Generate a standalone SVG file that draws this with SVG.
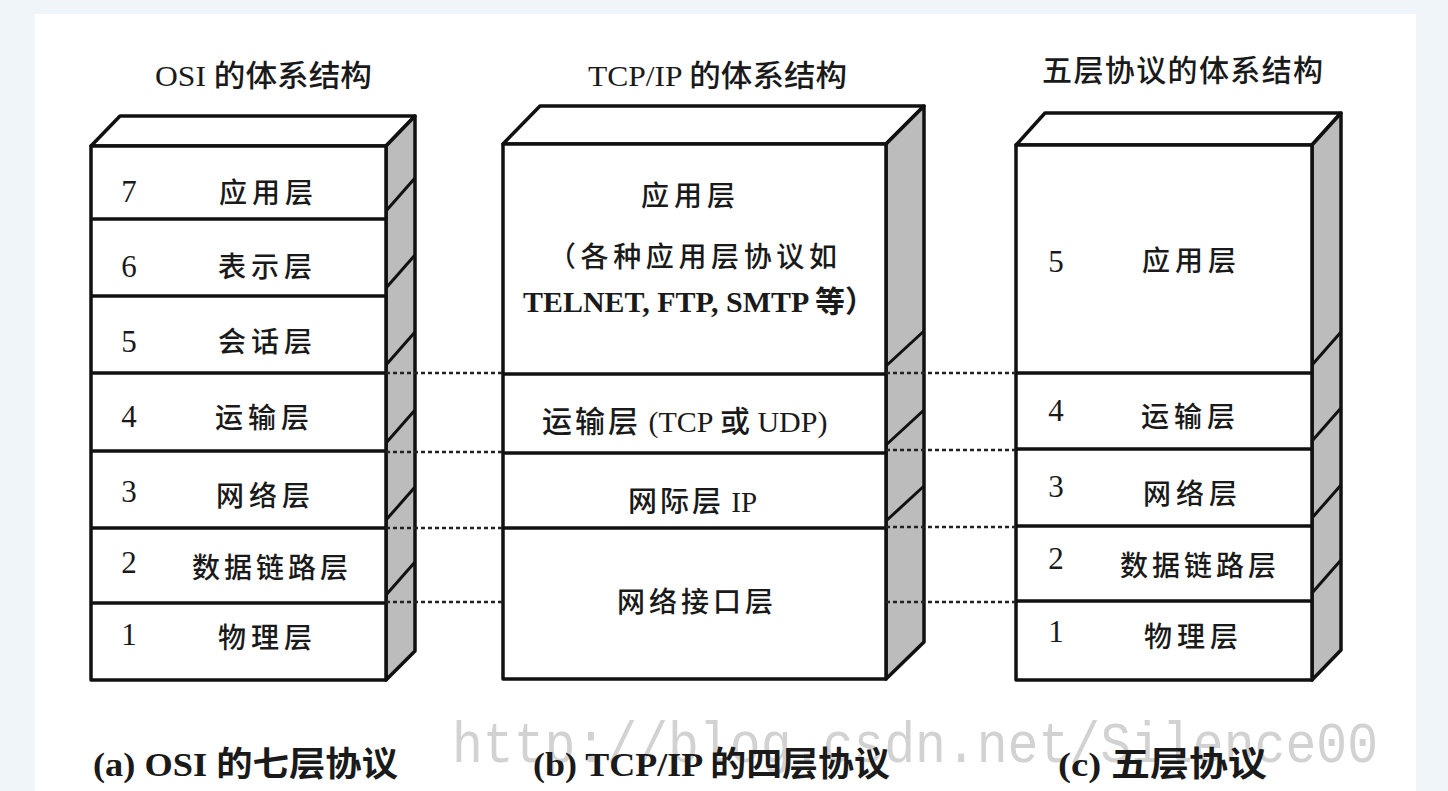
<svg xmlns="http://www.w3.org/2000/svg" width="1448" height="791" viewBox="0 0 1448 791">
<style>
.face{fill:#ffffff;stroke:#111;stroke-width:3.5;stroke-linejoin:round}
.side{fill:#bcbcbc;stroke:#111;stroke-width:3.5;stroke-linejoin:round}
.div{stroke:#111;stroke-width:3.5;fill:none}
.diag{stroke:#111;stroke-width:3;fill:none}
.dot{stroke:#222;stroke-width:2.5;stroke-dasharray:4 3;fill:none}
.t{font-family:"Liberation Serif","Noto Sans CJK SC",serif;fill:#1a1a1a}
.lbl{font-size:28px;font-weight:500;text-anchor:middle}
.num{font-size:31px;text-anchor:middle}
.ttl{font-size:30px;font-weight:500}
.cap{font-size:34px;font-weight:bold}
.wm{font-family:"Liberation Mono",monospace;font-size:58px;fill:#d2d2d2}
</style>
<rect x="0" y="0" width="1448" height="791" fill="#eff5f8"/>
<rect x="35" y="14" width="1381" height="777" fill="#ffffff"/>

<text class="wm" x="452" y="762" textLength="926" lengthAdjust="spacingAndGlyphs">http://blog.csdn.net/Silence00</text>

<g id="titles">
<text class="t ttl" x="155" y="86" textLength="217" lengthAdjust="spacingAndGlyphs">OSI 的体系结构</text>
<text class="t ttl" x="588" y="86" textLength="259" lengthAdjust="spacingAndGlyphs">TCP/IP 的体系结构</text>
<text class="t ttl" x="1042" y="81" textLength="281">五层协议的体系结构</text>
</g>

<g id="osi">
<polygon class="face" points="91,146 120,116 415,116 386,146"/>
<polygon class="side" points="386,146 415,116 415,651 386,680"/>
<rect class="face" x="91" y="146" width="295" height="534"/>
<g class="div">
<line x1="91" y1="219" x2="386" y2="219"/>
<line x1="91" y1="296" x2="386" y2="296"/>
<line x1="91" y1="373" x2="386" y2="373"/>
<line x1="91" y1="451" x2="386" y2="451"/>
<line x1="91" y1="528" x2="386" y2="528"/>
<line x1="91" y1="603" x2="386" y2="603"/>
</g>
<g class="diag">
<line x1="386" y1="211" x2="415" y2="178"/>
<line x1="386" y1="288" x2="415" y2="255"/>
<line x1="386" y1="365" x2="415" y2="332"/>
<line x1="386" y1="443" x2="415" y2="410"/>
<line x1="386" y1="520" x2="415" y2="487"/>
<line x1="386" y1="595" x2="415" y2="562"/>
</g>
<g id="osi-7"><text class="t num" x="129" y="202">7</text><text class="t lbl" x="266" y="203" textLength="94">应用层</text></g>
<g id="osi-6"><text class="t num" x="129" y="277">6</text><text class="t lbl" x="265" y="277" textLength="94">表示层</text></g>
<g id="osi-5"><text class="t num" x="129" y="352">5</text><text class="t lbl" x="265" y="352" textLength="94">会话层</text></g>
<g id="osi-4"><text class="t num" x="129" y="427">4</text><text class="t lbl" x="262" y="428" textLength="94">运输层</text></g>
<g id="osi-3"><text class="t num" x="129" y="502">3</text><text class="t lbl" x="263" y="506" textLength="94">网络层</text></g>
<g id="osi-2"><text class="t num" x="129" y="573">2</text><text class="t lbl" x="270" y="578" textLength="156">数据链路层</text></g>
<g id="osi-1"><text class="t num" x="129" y="645">1</text><text class="t lbl" x="265" y="648" textLength="94">物理层</text></g>
</g>

<g id="tcpip">
<polygon class="face" points="503,144 540,106 924,106 886,144"/>
<polygon class="side" points="886,144 924,106 924,642 886,679"/>
<rect class="face" x="503" y="144" width="383" height="535"/>
<g class="div">
<line x1="503" y1="374" x2="886" y2="374"/>
<line x1="503" y1="453" x2="886" y2="453"/>
<line x1="503" y1="528" x2="886" y2="528"/>
</g>
<g class="diag">
<line x1="886" y1="366" x2="924" y2="331"/>
<line x1="886" y1="445" x2="924" y2="410"/>
<line x1="886" y1="521" x2="924" y2="486"/>
</g>
<g id="tcpip-app">
<text class="t lbl" x="688" y="206" textLength="94">应用层</text>
<text class="t" x="548" y="267" font-size="28" font-weight="500" textLength="289">（各种应用层协议如</text>
<text class="t" x="523" y="312" font-size="30" font-weight="bold" textLength="352" lengthAdjust="spacingAndGlyphs">TELNET, FTP, SMTP 等）</text>
</g>
<g id="tcpip-transport"><text class="t" x="542" y="432" font-size="30" font-weight="500"><tspan letter-spacing="3">运输层</tspan> (TCP 或 UDP)</text></g>
<g id="tcpip-internet"><text class="t" x="628" y="512" font-size="29" font-weight="500"><tspan letter-spacing="3">网际层</tspan> IP</text></g>
<g id="tcpip-netif"><text class="t lbl" x="695" y="612" textLength="156">网络接口层</text></g>
</g>

<g id="five">
<polygon class="face" points="1016,145 1045,113 1341,113 1312,145"/>
<polygon class="side" points="1312,145 1341,113 1341,650 1312,680"/>
<rect class="face" x="1016" y="145" width="296" height="535"/>
<g class="div">
<line x1="1016" y1="373" x2="1312" y2="373"/>
<line x1="1016" y1="449" x2="1312" y2="449"/>
<line x1="1016" y1="526" x2="1312" y2="526"/>
<line x1="1016" y1="601" x2="1312" y2="601"/>
</g>
<g class="diag">
<line x1="1312" y1="365" x2="1341" y2="332"/>
<line x1="1312" y1="441" x2="1341" y2="408"/>
<line x1="1312" y1="518" x2="1341" y2="485"/>
<line x1="1312" y1="593" x2="1341" y2="560"/>
</g>
<g id="five-5"><text class="t num" x="1056" y="272">5</text><text class="t lbl" x="1189" y="271" textLength="94">应用层</text></g>
<g id="five-4"><text class="t num" x="1056" y="421">4</text><text class="t lbl" x="1188" y="427" textLength="94">运输层</text></g>
<g id="five-3"><text class="t num" x="1056" y="497">3</text><text class="t lbl" x="1190" y="504" textLength="94">网络层</text></g>
<g id="five-2"><text class="t num" x="1056" y="569">2</text><text class="t lbl" x="1198" y="576" textLength="156">数据链路层</text></g>
<g id="five-1"><text class="t num" x="1056" y="642">1</text><text class="t lbl" x="1191" y="647" textLength="94">物理层</text></g>
</g>

<g id="connectors" class="dot">
<line x1="386" y1="373" x2="503" y2="373"/>
<line x1="386" y1="452" x2="503" y2="452"/>
<line x1="386" y1="528" x2="503" y2="528"/>
<line x1="386" y1="602" x2="503" y2="602"/>
<line x1="886" y1="373" x2="1016" y2="373"/>
<line x1="886" y1="450" x2="1016" y2="450"/>
<line x1="886" y1="527" x2="1016" y2="527"/>
<line x1="886" y1="602" x2="1016" y2="602"/>
</g>

<g id="captions">
<text class="t cap" x="93" y="776" textLength="305" lengthAdjust="spacingAndGlyphs">(a) OSI 的七层协议</text>
<text class="t cap" x="533" y="776" textLength="357" lengthAdjust="spacingAndGlyphs">(b) TCP/IP 的四层协议</text>
<text class="t cap" x="1058" y="776" textLength="209" lengthAdjust="spacingAndGlyphs">(c) 五层协议</text>
</g>
</svg>
